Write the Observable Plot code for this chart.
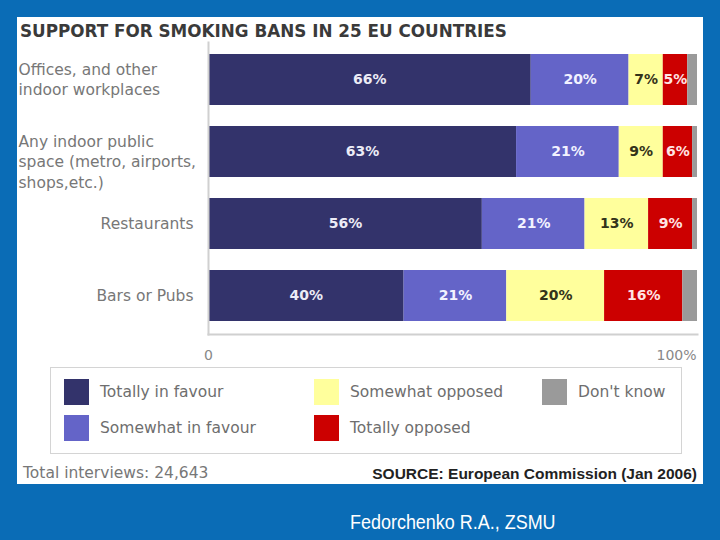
<!DOCTYPE html>
<html><head><meta charset="utf-8">
<script src="https://cdn.jsdelivr.net/npm/d3@7"></script>
<script src="https://cdn.jsdelivr.net/npm/@observablehq/plot@0.6"></script>
<style>
html,body{margin:0;padding:0;}
body{width:720px;height:540px;background:#0a6cb6;position:relative;overflow:hidden;font-family:"DejaVu Sans",Verdana,sans-serif;}
#panel{position:absolute;left:17px;top:17px;width:686px;height:467px;background:#fff;}
#title{position:absolute;left:3px;top:4px;font-weight:bold;font-size:16.8px;line-height:20px;color:#3a3a3a;white-space:nowrap;}
#chart{position:absolute;left:0;top:23px;}
#legend{position:absolute;left:33px;top:350px;width:630px;height:85px;border:1.5px solid #d4d4d4;}
.item{position:absolute;height:26px;}
.sw{position:absolute;left:0;top:0;width:25px;height:26px;}
.lb{position:absolute;left:36px;top:0;line-height:26px;font-size:15.5px;color:#6e6e6e;white-space:nowrap;}
#total{position:absolute;left:6px;top:446px;font-size:15.5px;line-height:20px;color:#777;white-space:nowrap;}
#source{position:absolute;right:6px;top:447px;font-family:"Liberation Sans",Arial,sans-serif;font-weight:bold;font-size:15.5px;line-height:20px;color:#222;white-space:nowrap;}
#author{position:absolute;left:350px;top:510px;font-family:"Liberation Sans",Arial,sans-serif;font-size:21px;line-height:24px;color:#fff;transform:scaleX(0.855);transform-origin:left center;white-space:nowrap;}
</style></head>
<body>
<div id="panel">
  <div id="title"></div>
  <div id="chart"></div>
  <div id="legend"></div>
  <div id="total"></div>
  <div id="source"></div>
</div>
<div id="author"></div>
<script>
const titleText = "SUPPORT FOR SMOKING BANS IN 25 EU COUNTRIES";
const totalText = "Total interviews: 24,643";
const sourceText = "SOURCE: European Commission (Jan 2006)";
const authorText = "Fedorchenko R.A., ZSMU";

const places = [
  "Offices, and other\nindoor workplaces",
  "Any indoor public\nspace (metro, airports,\nshops,etc.)",
  "Restaurants",
  "Bars or Pubs"
];
const seriesNames = ["Totally in favour", "Somewhat in favour", "Somewhat opposed", "Totally opposed", "Don't know"];
const seriesColors = ["#33336b", "#6464c8", "#ffff9c", "#cc0000", "#9a9a9a"];
const labelColors = ["#ececf6", "#f2f2ff", "#33331a", "#ffe4e4", "#ffffff"];

const totallyInFavour  = [66, 63, 56, 40];
const somewhatInFavour = [20, 21, 21, 21];
const somewhatOpposed  = [7, 9, 13, 20];
const totallyOpposed   = [5, 6, 9, 16];
const dontKnow         = [2, 1, 1, 3];
const showLabel        = [true, true, true, true, false];

const xTicks = [0, 100];
const xTickLabels = ["0", "100%"];

const seriesValues = [totallyInFavour, somewhatInFavour, somewhatOpposed, totallyOpposed, dontKnow];

const rows = [];
places.forEach((p, i) => {
  seriesValues.forEach((vals, s) => rows.push({place: p, series: seriesNames[s], value: vals[i]}));
});

document.getElementById("title").textContent = titleText;
document.getElementById("total").textContent = totalText;
document.getElementById("source").textContent = sourceText;
document.getElementById("author").textContent = authorText;

const labelMarks = seriesNames.map((s, k) => showLabel[k] ? Plot.text(rows, Plot.stackX({
  x: "value", y: "place", z: "series",
  text: d => d.series === s ? d.value + "%" : "",
  fill: labelColors[k], fontSize: 14, fontWeight: "bold"
})) : null).filter(Boolean);

const chart = Plot.plot({
  width: 686, height: 325,
  marginLeft: 191, marginRight: 6, marginTop: 2, marginBottom: 31,
  x: {domain: [0, 100], axis: null},
  y: {domain: places, axis: null, paddingInner: 0.285, paddingOuter: 0.15},
  color: {domain: seriesNames, range: seriesColors},
  style: {fontFamily: "'DejaVu Sans', Verdana, sans-serif", background: "transparent", overflow: "visible"},
  marks: [
    Plot.barX(rows, Plot.stackX({x: "value", y: "place", fill: "series"})),
    ...labelMarks,
    Plot.frame({anchor: "left", stroke: "#d0d0d0", strokeWidth: 2}),
    Plot.frame({anchor: "bottom", stroke: "#d0d0d0", strokeWidth: 2}),
    Plot.text(places.slice(0, 2), {y: d => d, text: d => d, frameAnchor: "left", textAnchor: "start",
      lineAnchor: "top", dx: -190, dy: -20, lineHeight: 1.33, fontSize: 15.5, fill: "#777"}),
    Plot.text(places.slice(2), {y: d => d, text: d => d, frameAnchor: "left", textAnchor: "end",
      dx: -15, fontSize: 15.5, fill: "#777"}),
    Plot.text(xTicks.slice(0, 1), {x: d => d, text: (d, i) => xTickLabels[0], frameAnchor: "bottom",
      dy: 25, fontSize: 14, fill: "#888"}),
    Plot.text(xTicks.slice(1), {x: d => d, text: (d, i) => xTickLabels[1], frameAnchor: "bottom",
      textAnchor: "end", dx: -1, dy: 25, fontSize: 14, fill: "#888"})
  ]
});
document.getElementById("chart").appendChild(chart);

const legend = document.getElementById("legend");
const colLeft = [13, 263, 491];
const rowTop = [11, 47];
seriesNames.forEach((name, i) => {
  const item = document.createElement("div");
  item.className = "item";
  item.style.left = colLeft[Math.floor(i / 2)] + "px";
  item.style.top = rowTop[i % 2] + "px";
  const sw = document.createElement("div");
  sw.className = "sw";
  sw.style.background = seriesColors[i];
  const lb = document.createElement("div");
  lb.className = "lb";
  lb.textContent = name;
  item.appendChild(sw); item.appendChild(lb);
  legend.appendChild(item);
});
</script>
</body></html>
